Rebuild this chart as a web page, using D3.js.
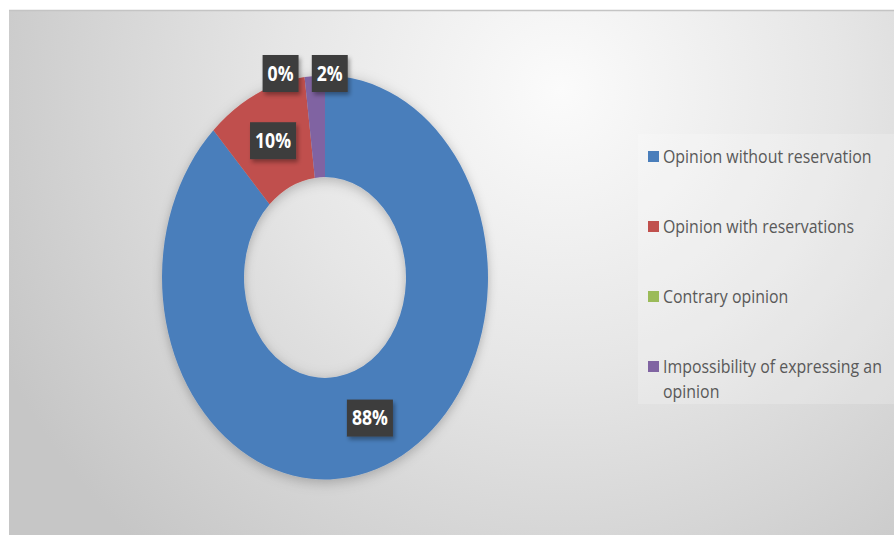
<!DOCTYPE html>
<html>
<head>
<meta charset="utf-8">
<script src="https://cdn.jsdelivr.net/npm/d3@7"></script>
<style>
  body { margin: 0; background: #fff; }
  text { font-family: "Open Sans", sans-serif; }
</style>
</head>
<body>
<div id="chart"></div>
<script>
// data
var categories = ["Opinion without reservation", "Opinion with reservations", "Contrary opinion", "Impossibility of expressing an opinion"];
var values = [88, 10, 0, 2];
var colors = ["#4a7ebb", "#c0504d", "#9bbb59", "#8064a2"];

var W = 894, H = 537;
var svg = d3.select("#chart").append("svg")
    .attr("width", W).attr("height", H);

var defs = svg.append("defs");

// background gradient
var grad = defs.append("radialGradient")
    .attr("id", "bg")
    .attr("gradientUnits", "userSpaceOnUse")
    .attr("cx", 560).attr("cy", 90).attr("r", 620);
grad.append("stop").attr("offset", "0%").attr("stop-color", "#fbfbfb");
grad.append("stop").attr("offset", "45%").attr("stop-color", "#e6e6e6");
grad.append("stop").attr("offset", "100%").attr("stop-color", "#c6c6c6");

var shadow = defs.append("filter").attr("id", "shadow")
    .attr("x", "-20%").attr("y", "-20%").attr("width", "140%").attr("height", "140%");
shadow.append("feDropShadow").attr("dx", 0).attr("dy", 2).attr("stdDeviation", 5)
    .attr("flood-color", "#000").attr("flood-opacity", 0.25);

var boxShadow = defs.append("filter").attr("id", "boxShadow")
    .attr("x", "-30%").attr("y", "-30%").attr("width", "160%").attr("height", "160%");
boxShadow.append("feDropShadow").attr("dx", 2).attr("dy", 3).attr("stdDeviation", 2)
    .attr("flood-color", "#000").attr("flood-opacity", 0.35);

svg.append("rect")
    .attr("x", 9).attr("y", 10).attr("width", W - 9).attr("height", 525)
    .attr("fill", "url(#bg)");
svg.append("line")
    .attr("x1", 9).attr("x2", W).attr("y1", 10.5).attr("y2", 10.5)
    .attr("stroke", "#c4c4c4").attr("stroke-width", 1.5);

// legend panel
svg.append("rect")
    .attr("x", 638).attr("y", 134).attr("width", W - 638).attr("height", 270)
    .attr("fill", "#ffffff").attr("opacity", 0.2);

// donut
var cx = 325, cy = 277.5;
var rOuter = 163, rInner = 81, sy = 202 / 163;
var condense = 0.86; // narrow the font a bit, closer to Calibri

var pie = d3.pie().sort(null).value(function(d) { return d; });
var arcs = pie(values);
var arc = d3.arc().innerRadius(rInner).outerRadius(rOuter);

var donut = svg.append("g")
    .attr("transform", "translate(" + cx + "," + cy + ") scale(1," + sy + ")")
    .attr("filter", "url(#shadow)");

donut.selectAll("path")
    .data(arcs)
    .enter()
    .append("path")
    .attr("d", arc)
    .attr("fill", function(d, i) { return colors[i]; });

// data labels
var labelArc = d3.arc().innerRadius((rInner + rOuter) / 2).outerRadius((rInner + rOuter) / 2);
var outerArc = d3.arc().innerRadius(rOuter).outerRadius(rOuter);
// small slices have their labels pulled above the ring
var smallNudge = { 2: -24, 3: 15 };

var labels = svg.append("g").attr("transform", "translate(" + cx + "," + cy + ")");
var lab = labels.selectAll("g")
    .data(arcs)
    .enter()
    .append("g")
    .attr("transform", function(d, i) {
        var p;
        if (d.value < 5) {
            p = outerArc.centroid(d);
            return "translate(" + (p[0] + smallNudge[i]) + "," + (-rOuter * sy - 2) + ")";
        }
        p = labelArc.centroid(d);
        return "translate(" + p[0] + "," + (p[1] * sy) + ")";
    });

lab.each(function(d) {
    var g = d3.select(this);
    var t = g.append("text")
        .attr("text-anchor", "middle")
        .attr("dy", "0.36em")
        .attr("transform", "scale(" + condense + ",1)")
        .attr("fill", "#fff")
        .style("font-size", "20.5px")
        .style("font-weight", "bold")
        .text(d.value + "%");
    var w = t.node().getComputedTextLength() * condense + 10;
    g.insert("rect", "text")
        .attr("x", -w / 2).attr("y", -18.5)
        .attr("width", w).attr("height", 37)
        .attr("fill", "#3d3d3d")
        .attr("filter", "url(#boxShadow)");
});

// legend
var legendY = d3.scalePoint().domain(categories).range([157, 367]);
var legend = svg.append("g");
var item = legend.selectAll("g")
    .data(categories)
    .enter()
    .append("g")
    .attr("transform", function(d) { return "translate(648," + legendY(d) + ")"; });

item.append("rect")
    .attr("x", 0).attr("y", -6).attr("width", 11).attr("height", 11)
    .attr("fill", function(d, i) { return colors[i]; });

item.append("text")
    .attr("transform", "translate(15,0) scale(" + condense + ",1)")
    .attr("dy", "0.35em")
    .attr("fill", "#595959")
    .style("font-size", "18.5px")
    .each(function(d) {
        var el = d3.select(this);
        if (d.length > 30) {
            var words = d.split(" ");
            el.append("tspan").attr("x", 0).text(words.slice(0, -1).join(" "));
            el.append("tspan").attr("x", 0).attr("dy", 25).text(words[words.length - 1]);
        } else {
            el.text(d);
        }
    });
</script>
</body>
</html>
